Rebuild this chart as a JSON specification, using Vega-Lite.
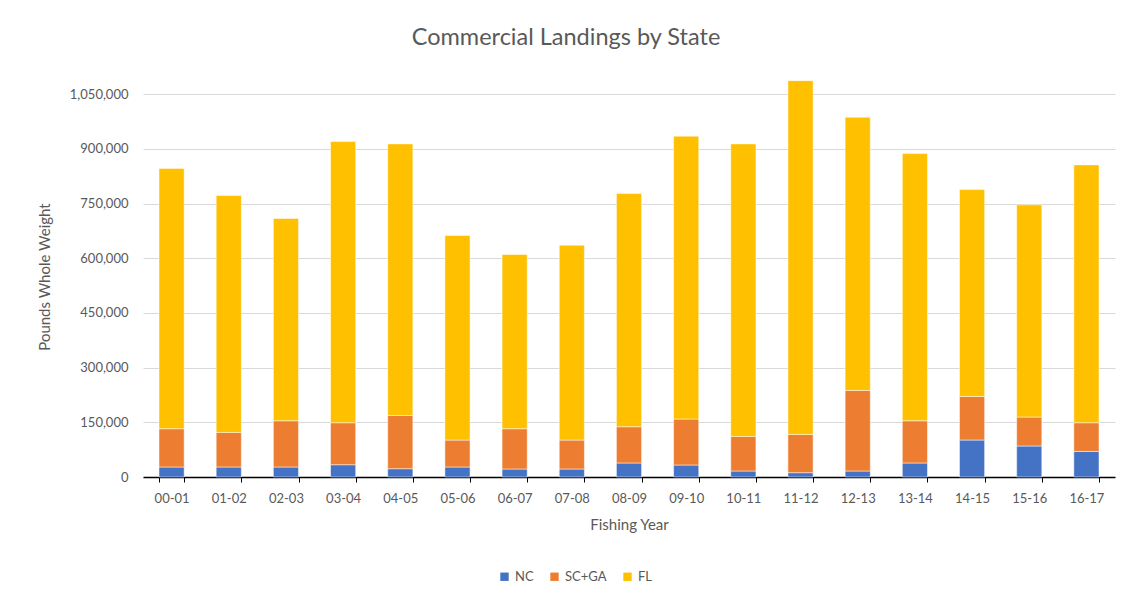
{
  "$schema": "https://vega.github.io/schema/vega-lite/v6.json",
  "autosize": "none",
  "width": 972,
  "height": 401,
  "padding": {"left": 143, "top": 76, "right": 12, "bottom": 127},
  "background": "white",
  "title": {
    "text": "Commercial Landings by State",
    "font": "Lato",
    "fontSize": 23.5,
    "fontWeight": "normal",
    "color": "#595959",
    "anchor": "middle",
    "dx": -63,
    "offset": 27
  },
  "data": {
    "values": [
      {"year": "00-01", "state": "NC", "k": 1, "lbs": 27400},
      {"year": "00-01", "state": "SC+GA", "k": 2, "lbs": 105000},
      {"year": "00-01", "state": "FL", "k": 3, "lbs": 714000},
      {"year": "01-02", "state": "NC", "k": 1, "lbs": 27400},
      {"year": "01-02", "state": "SC+GA", "k": 2, "lbs": 94900},
      {"year": "01-02", "state": "FL", "k": 3, "lbs": 649700},
      {"year": "02-03", "state": "NC", "k": 1, "lbs": 27400},
      {"year": "02-03", "state": "SC+GA", "k": 2, "lbs": 126900},
      {"year": "02-03", "state": "FL", "k": 3, "lbs": 554700},
      {"year": "03-04", "state": "NC", "k": 1, "lbs": 33700},
      {"year": "03-04", "state": "SC+GA", "k": 2, "lbs": 115200},
      {"year": "03-04", "state": "FL", "k": 3, "lbs": 771100},
      {"year": "04-05", "state": "NC", "k": 1, "lbs": 22800},
      {"year": "04-05", "state": "SC+GA", "k": 2, "lbs": 146100},
      {"year": "04-05", "state": "FL", "k": 3, "lbs": 744900},
      {"year": "05-06", "state": "NC", "k": 1, "lbs": 27400},
      {"year": "05-06", "state": "SC+GA", "k": 2, "lbs": 74000},
      {"year": "05-06", "state": "FL", "k": 3, "lbs": 560900},
      {"year": "06-07", "state": "NC", "k": 1, "lbs": 21900},
      {"year": "06-07", "state": "SC+GA", "k": 2, "lbs": 110500},
      {"year": "06-07", "state": "FL", "k": 3, "lbs": 477900},
      {"year": "07-08", "state": "NC", "k": 1, "lbs": 21900},
      {"year": "07-08", "state": "SC+GA", "k": 2, "lbs": 79500},
      {"year": "07-08", "state": "FL", "k": 3, "lbs": 534600},
      {"year": "08-09", "state": "NC", "k": 1, "lbs": 38400},
      {"year": "08-09", "state": "SC+GA", "k": 2, "lbs": 99500},
      {"year": "08-09", "state": "FL", "k": 3, "lbs": 639600},
      {"year": "09-10", "state": "NC", "k": 1, "lbs": 32900},
      {"year": "09-10", "state": "SC+GA", "k": 2, "lbs": 126100},
      {"year": "09-10", "state": "FL", "k": 3, "lbs": 775900},
      {"year": "10-11", "state": "NC", "k": 1, "lbs": 16400},
      {"year": "10-11", "state": "SC+GA", "k": 2, "lbs": 94900},
      {"year": "10-11", "state": "FL", "k": 3, "lbs": 802500},
      {"year": "11-12", "state": "NC", "k": 1, "lbs": 11800},
      {"year": "11-12", "state": "SC+GA", "k": 2, "lbs": 105000},
      {"year": "11-12", "state": "FL", "k": 3, "lbs": 970500},
      {"year": "12-13", "state": "NC", "k": 1, "lbs": 16400},
      {"year": "12-13", "state": "SC+GA", "k": 2, "lbs": 221000},
      {"year": "12-13", "state": "FL", "k": 3, "lbs": 749500},
      {"year": "13-14", "state": "NC", "k": 1, "lbs": 38400},
      {"year": "13-14", "state": "SC+GA", "k": 2, "lbs": 115900},
      {"year": "13-14", "state": "FL", "k": 3, "lbs": 732800},
      {"year": "14-15", "state": "NC", "k": 1, "lbs": 101400},
      {"year": "14-15", "state": "SC+GA", "k": 2, "lbs": 119600},
      {"year": "14-15", "state": "FL", "k": 3, "lbs": 567400},
      {"year": "15-16", "state": "NC", "k": 1, "lbs": 85000},
      {"year": "15-16", "state": "SC+GA", "k": 2, "lbs": 79500},
      {"year": "15-16", "state": "FL", "k": 3, "lbs": 582000},
      {"year": "16-17", "state": "NC", "k": 1, "lbs": 70200},
      {"year": "16-17", "state": "SC+GA", "k": 2, "lbs": 78700},
      {"year": "16-17", "state": "FL", "k": 3, "lbs": 707300}
    ]
  },
  "mark": {"type": "bar", "stroke": "white", "strokeWidth": 0.5},
  "encoding": {
    "x": {
      "field": "year",
      "type": "nominal",
      "sort": null,
      "scale": {"paddingInner": 0.56, "paddingOuter": 0.28},
      "axis": {
        "title": "Fishing Year",
        "titleFont": "Lato",
        "titleFontSize": 15,
        "titleFontWeight": "normal",
        "titleColor": "#595959",
        "titlePadding": 12,
        "labelFont": "Lato",
        "labelFontSize": 13,
        "labelColor": "#595959",
        "labelAngle": 0,
        "labelPadding": 10,
        "domainColor": "#000000",
        "domainWidth": 1.5,
        "tickColor": "#000000",
        "tickBand": "extent",
        "tickSize": 5,
        "tickOffset": 0
      }
    },
    "y": {
      "field": "lbs",
      "type": "quantitative",
      "stack": "zero",
      "scale": {"domain": [0, 1100000], "nice": false},
      "axis": {
        "title": "Pounds Whole Weight",
        "titleFont": "Lato",
        "titleFontSize": 15,
        "titleFontWeight": "normal",
        "titleColor": "#595959",
        "titlePadding": 17,
        "values": [0, 150000, 300000, 450000, 600000, 750000, 900000, 1050000],
        "format": ",d",
        "labelFont": "Lato",
        "labelFontSize": 13,
        "labelColor": "#595959",
        "labelPadding": 15,
        "domain": false,
        "ticks": false,
        "gridColor": "#d9d9d9",
        "gridWidth": 1.2
      }
    },
    "color": {
      "field": "state",
      "type": "nominal",
      "scale": {"domain": ["NC", "SC+GA", "FL"], "range": ["#4472C4", "#ED7D31", "#FFC000"]},
      "legend": {
        "title": null,
        "orient": "none",
        "direction": "horizontal",
        "legendX": 355,
        "legendY": 494,
        "symbolType": "square",
        "symbolSize": 70,
        "symbolStrokeWidth": 0,
        "labelFont": "Lato",
        "labelFontSize": 13,
        "labelColor": "#595959",
        "columnPadding": 14,
        "labelOffset": 4
      }
    },
    "order": {"field": "k", "type": "quantitative", "sort": "ascending"}
  },
  "config": {
    "view": {"stroke": null}
  }
}
